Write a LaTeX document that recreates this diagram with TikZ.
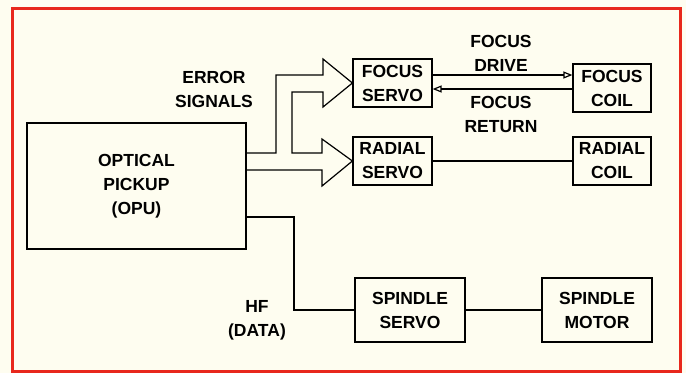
\documentclass[tikz,border=0pt]{standalone}
\usepackage{fontspec}
\setmainfont{Liberation Sans}
\usepackage{tikz}
\usetikzlibrary{arrows.meta}
\definecolor{paper}{HTML}{FEFDF0}
\definecolor{frame}{HTML}{E8281C}

\begin{document}
\begin{tikzpicture}[x=1pt, y=-1pt, line width=1.2pt,
  every node/.style={font=\fontsize{17.5}{24}\selectfont\bfseries, align=center, inner sep=0pt},
  blk/.style={draw, fill=paper, minimum width=79pt, minimum height=48pt},
  sig/.style={-{Triangle[open,length=9pt,width=7pt]}}]
\fill[paper] (0,0) rectangle (686,373);
\draw[frame, line width=3pt] (12,8) rectangle (680,371);
% blocks
\node[blk, minimum width=219pt, minimum height=126pt] (opu) at (136.5,186) {OPTICAL\\PICKUP\\(OPU)};
\node[blk] (fservo) at (392.5,83) {FOCUS\\SERVO};
\node[blk] (rservo) at (392.5,161) {RADIAL\\SERVO};
\node[blk, minimum width=78pt] (fcoil) at (612,88) {FOCUS\\COIL};
\node[blk, minimum width=78pt] (rcoil) at (612,161) {RADIAL\\COIL};
\node[blk, minimum width=110pt, minimum height=64pt] (sservo) at (410,310) {SPINDLE\\SERVO};
\node[blk, minimum width=110pt, minimum height=64pt] (smotor) at (597,310) {SPINDLE\\MOTOR};
% labels
\node (err) at (214,89) {ERROR\\SIGNALS};
\node (fdrv) at (501,53) {FOCUS\\DRIVE};
\node (fret) at (501,114) {FOCUS\\RETURN};
\node (hf) at (257,320) {HF\\(DATA)};
% error signal arrows
\draw (opu.east |- 0,153) -- (276,153) -- (276,75) -- (323,75) -- (323,59) -- (fservo.west)
  -- (323,107) -- (323,92) -- (292,92) -- (292,153) -- (322,153) -- (322,139) -- (rservo.west)
  -- (322,186) -- (322,170) -- (opu.east |- 0,170);
% focus loop
\draw[sig] (fservo.east |- 0,75) -- (fcoil.west |- 0,75);
\draw[sig] (fcoil.west |- 0,89) -- (fservo.east |- 0,89);
\draw (rservo) -- (rcoil);
% HF path
\draw (opu.east |- 0,217) -- (294,217) |- (sservo.west);
\draw (sservo) -- (smotor);
\end{tikzpicture}
\end{document}
